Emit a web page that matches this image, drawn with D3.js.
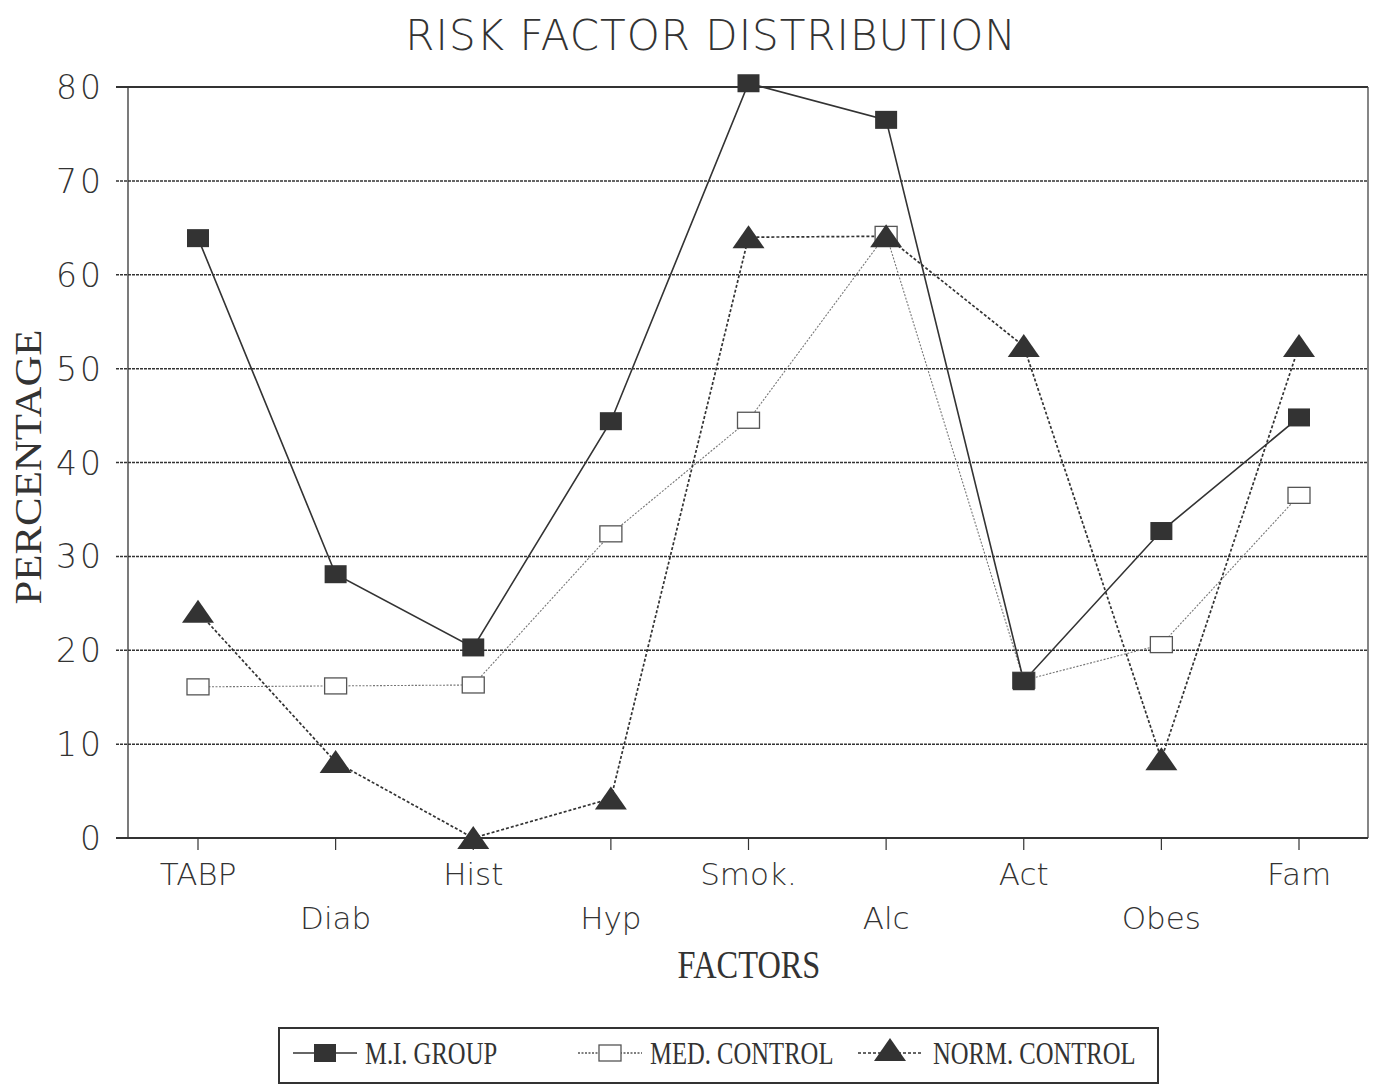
<!DOCTYPE html>
<html><head><meta charset="utf-8">
<script src="https://cdn.jsdelivr.net/npm/d3@7"></script>
<style>body{margin:0;background:#fff}svg{display:block}</style>
</head><body>
<svg id="c" width="1373" height="1086"></svg>
<script>
const categories = ["TABP","Diab","Hist","Hyp","Smok.","Alc","Act","Obes","Fam"];
const miGroup    = [63.9, 28.1, 20.3, 44.4, 80.4, 76.5, 16.7, 32.7, 44.8];
const medControl = [16.1, 16.2, 16.3, 32.4, 44.5, 64.3, 16.8, 20.6, 36.5];
const normControl= [24.1, 8.1, 0, 4.2, 64.0, 64.1, 52.4, 8.4, 52.4];
const yTicks = [0,10,20,30,40,50,60,70,80];
const legendLabels = ["M.I. GROUP","MED. CONTROL","NORM. CONTROL"];

const svg = d3.select("#c");
const L = 128, R = 1368, T = 87, B = 838;
const x = d3.scalePoint().domain(categories).range([198, 1299]);
const y = d3.scaleLinear().domain([0,80]).range([B, T]);

// title
svg.append("text").attr("x",711).attr("y",50).attr("text-anchor","middle")
  .style("font-family","'DejaVu Sans'").style("font-weight","200").style("font-size","42px")
  .style("letter-spacing","1px").attr("fill","#333").text("RISK FACTOR DISTRIBUTION");

// gridlines
svg.append("g").selectAll("line").data(yTicks.filter(d=>d>0)).join("line")
  .attr("x1",116).attr("x2",R).attr("y1",d=>y(d)).attr("y2",d=>y(d))
  .attr("stroke","#333").attr("stroke-width",d=>d===80?1.8:1.5)
  .attr("stroke-dasharray",d=>d===80?null:"3,1");

// frame
svg.append("line").attr("x1",L).attr("x2",L).attr("y1",T).attr("y2",B).attr("stroke","#333").attr("stroke-width",1.3);
svg.append("line").attr("x1",R).attr("x2",R).attr("y1",T).attr("y2",B).attr("stroke","#444").attr("stroke-width",1.3);
svg.append("line").attr("x1",116).attr("x2",R).attr("y1",B).attr("y2",B).attr("stroke","#333").attr("stroke-width",1.8);

// y axis labels
svg.append("g").selectAll("text").data(yTicks).join("text")
  .attr("x",104).attr("y",d=>y(d)+12).attr("text-anchor","end")
  .style("font-family","'DejaVu Sans'").style("font-weight","200").style("font-size","33px")
  .style("letter-spacing","3px").attr("fill","#333").text(d=>d);

// x ticks
svg.append("g").selectAll("line").data(categories).join("line")
  .attr("x1",d=>x(d)).attr("x2",d=>x(d)).attr("y1",B).attr("y2",B+12)
  .attr("stroke","#333").attr("stroke-width",1.2);
svg.append("g").selectAll("text").data(categories).join("text")
  .attr("x",d=>x(d)).attr("y",(d,i)=>i%2===0?885:929).attr("text-anchor","middle")
  .style("font-family","'DejaVu Sans'").style("font-weight","200").style("font-size","31px")
  .attr("fill","#333").text(d=>d);

// axis titles
svg.append("text").attr("transform","translate(41,467) rotate(-90)").attr("text-anchor","middle")
  .attr("textLength",275).attr("lengthAdjust","spacingAndGlyphs")
  .style("font-family","'Liberation Serif'").style("font-size","37px").attr("fill","#333").text("PERCENTAGE");
svg.append("text").attr("x",749).attr("y",978).attr("text-anchor","middle")
  .style("font-family","'Liberation Serif'").style("font-size","36px").attr("fill","#333")
  .attr("transform","translate(749,978) scale(0.9,1.1) translate(-749,-978)").text("FACTORS");

const line = d3.line().x((d,i)=>x(categories[i])).y(d=>y(d));
const series = [
  {data:medControl, stroke:"#777", w:1.1, dash:"2,1.5", mark:"open"},
  {data:normControl, stroke:"#333", w:1.7, dash:"3,2", mark:"tri"},
  {data:miGroup, stroke:"#333", w:1.6, dash:null, mark:"sq"}
];
function drawMark(g, type, cx, cy){
  if(type==="sq") g.append("rect").attr("x",cx-11).attr("y",cy-9).attr("width",22).attr("height",18).attr("fill","#333");
  else if(type==="open") g.append("rect").attr("x",cx-11).attr("y",cy-8).attr("width",22).attr("height",16).attr("fill","#fff").attr("stroke","#555").attr("stroke-width",1.3);
  else g.append("path").attr("d",`M${cx},${cy-12}L${cx+16},${cy+11}L${cx-16},${cy+11}Z`).attr("fill","#333");
}
series.forEach(s=>{
  svg.append("path").datum(s.data).attr("d",line).attr("fill","none")
    .attr("stroke",s.stroke).attr("stroke-width",s.w).attr("stroke-dasharray",s.dash);
});
series.forEach(s=>{
  const g = svg.append("g");
  s.data.forEach((v,i)=>drawMark(g, s.mark, x(categories[i]), y(v)));
});

// legend
svg.append("rect").attr("x",279).attr("y",1028).attr("width",879).attr("height",55)
  .attr("fill","none").attr("stroke","#333").attr("stroke-width",2);
const leg = [{x0:293,mark:"sq",dash:null,stroke:"#333",tx:365},
             {x0:578,mark:"open",dash:"2,1.5",stroke:"#555",tx:650},
             {x0:858,mark:"tri",dash:"3,2",stroke:"#333",tx:933}];
leg.forEach((l,i)=>{
  const g = svg.append("g");
  g.append("line").attr("x1",l.x0).attr("x2",l.x0+64).attr("y1",1053).attr("y2",1053)
   .attr("stroke",l.stroke).attr("stroke-width",1.6).attr("stroke-dasharray",l.dash);
  drawMark(g, l.mark, l.x0+32, l.mark==="tri"?1050:1053);
  g.append("text").attr("x",l.tx).attr("y",1064)
   .attr("transform",`translate(${l.tx},1064) scale(0.85,1.1) translate(${-l.tx},-1064)`)
   .style("font-family","'Liberation Serif'").style("font-size","29px").attr("fill","#333").text(legendLabels[i]);
});
</script>
</body></html>
